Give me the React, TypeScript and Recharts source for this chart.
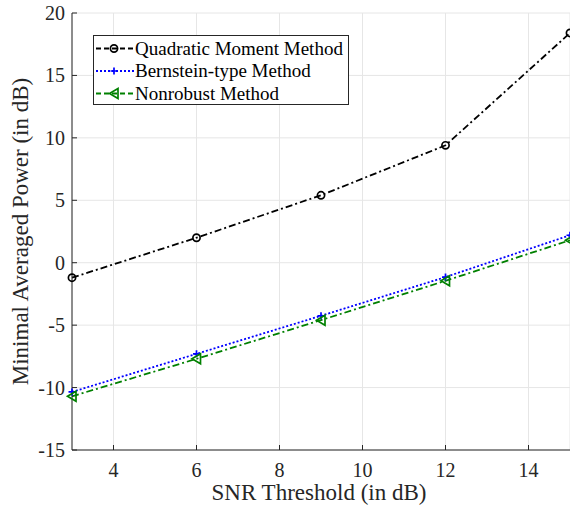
import React from 'react';
import { LineChart, Line, XAxis, YAxis, CartesianGrid, Legend, Label } from 'recharts';

const snrThreshold = [3, 6, 9, 12, 15];
const quadraticMoment = [-1.2, 2.0, 5.4, 9.4, 18.4];
const bernsteinType = [-10.35, -7.3, -4.25, -1.15, 2.2];
const nonrobust = [-10.7, -7.7, -4.6, -1.45, 1.8];
const xTicks = [4, 6, 8, 10, 12, 14];
const yTicks = [-15, -10, -5, 0, 5, 10, 15, 20];
const seriesNames = ['Quadratic Moment Method', 'Bernstein-type Method', 'Nonrobust Method'];
const seriesKeys = ['quadratic', 'bernstein', 'nonrobust'];

const data = snrThreshold.map((x, i) => ({
  snr: x,
  quadratic: quadraticMoment[i],
  bernstein: bernsteinType[i],
  nonrobust: nonrobust[i],
}));

const FONT = '"Liberation Serif", "Times New Roman", serif';
const AX = '#262626';
const GRID = '#e6e6e6';
const COLORS = ['#000000', '#0000ff', '#008000'];
const DASHES = ['7 3 2 3', '2 2', '7 3 2 3'];
const SW = 1.8;

const marker = (idx: number, cx: number, cy: number, key?: any) => {
  const c = COLORS[idx];
  if (idx === 0) {
    return <circle key={key} cx={cx} cy={cy} r={3.6} fill="none" stroke={c} strokeWidth={1.7} />;
  }
  if (idx === 1) {
    return (
      <path key={key} d={`M${cx - 3.5},${cy}H${cx + 3.5}M${cx},${cy - 3.5}V${cy + 3.5}`} stroke={c} strokeWidth={1.7} fill="none" />
    );
  }
  return (
    <path key={key} d={`M${cx - 4.5},${cy}L${cx + 4},${cy - 5}L${cx + 4},${cy + 5}Z`} stroke={c} strokeWidth={1.7} fill="none" />
  );
};

const makeDot = (idx: number) => (props: any) => {
  const { cx, cy, key, index } = props;
  if (cx == null || cy == null) return <g key={key ?? index} />;
  return marker(idx, cx, cy, key ?? `d${idx}-${index}`);
};

const BottomTick = (props: any) => {
  const { x, y, payload } = props;
  return (
    <g>
      <line x1={x} x2={x} y1={y} y2={y - 5} stroke={AX} strokeWidth={1} />
      <text x={x} y={y + 27} textAnchor="middle" fontSize={20} fill={AX} fontFamily={FONT}>
        {payload.value}
      </text>
    </g>
  );
};

const LeftTick = (props: any) => {
  const { x, y, payload } = props;
  return (
    <g>
      <line x1={x} x2={x + 5} y1={y} y2={y} stroke={AX} strokeWidth={1} />
      <text x={x - 7} y={y + 7} textAnchor="end" fontSize={20} fill={AX} fontFamily={FONT}>
        {payload.value}
      </text>
    </g>
  );
};

const TopTick = (props: any) => {
  const { x, y } = props;
  return <line x1={x} x2={x} y1={y} y2={y + 5} stroke={AX} strokeWidth={1} />;
};

const RightTick = (props: any) => {
  const { x, y } = props;
  return <line x1={x} x2={x - 5} y1={y} y2={y} stroke={AX} strokeWidth={1} />;
};

const LegendBox = () => {
  const rowY = [13.5, 36, 58.5];
  return (
    <svg width={256} height={70} style={{ display: 'block' }}>
      <rect x={0.5} y={0.5} width={255} height={69} fill="#ffffff" stroke={AX} strokeWidth={1} />
      {seriesNames.map((name, i) => (
        <g key={name}>
          <line x1={3} x2={41} y1={rowY[i]} y2={rowY[i]} stroke={COLORS[i]} strokeWidth={SW} strokeDasharray={i === 1 ? '2 2' : '5 3'} />
          {marker(i, 21, rowY[i])}
          <text x={42} y={rowY[i] + 6} fontSize={19} fontFamily={FONT} fill="#000">
            {name}
          </text>
        </g>
      ))}
    </svg>
  );
};

export default function App() {
  return (
    <div style={{ position: 'absolute', left: 0, top: 0, background: '#fff' }}>
      <LineChart width={570} height={507} data={data} margin={{ top: 13, right: 0, bottom: 0, left: 0 }}>
        <CartesianGrid stroke={GRID} strokeWidth={1} />
        <XAxis
          dataKey="snr"
          type="number"
          domain={[3, 15]}
          ticks={xTicks}
          interval={0}
          height={57}
          tickSize={0}
          tickMargin={0}
          tick={BottomTick}
          axisLine={{ stroke: AX, strokeWidth: 1 }}
          tickLine={false}
        >
          <Label
            content={(p: any) => {
              const vb = p.viewBox || { x: 72, y: 450, width: 498 };
              return (
                <text x={vb.x + vb.width / 2 - 2} y={vb.y + 50} textAnchor="middle" fontSize={23} fontFamily={FONT} fill={AX}>
                  SNR Threshold (in dB)
                </text>
              );
            }}
          />
        </XAxis>
        <XAxis
          xAxisId="top"
          orientation="top"
          type="number"
          domain={[3, 15]}
          ticks={xTicks}
          interval={0}
          height={0}
          tickSize={0}
          tickMargin={0}
          tick={TopTick}
          axisLine={{ stroke: AX, strokeWidth: 1 }}
          tickLine={false}
        />
        <YAxis
          type="number"
          domain={[-15, 20]}
          ticks={yTicks}
          interval={0}
          width={72}
          tickSize={0}
          tickMargin={0}
          tick={LeftTick}
          axisLine={{ stroke: AX, strokeWidth: 1 }}
          tickLine={false}
        >
          <Label
            content={(p: any) => {
              const vb = p.viewBox || { x: 0, y: 13, height: 437 };
              const cx = vb.x + 28;
              const cy = vb.y + vb.height / 2;
              return (
                <text x={cx} y={cy} transform={`rotate(-90 ${cx} ${cy})`} textAnchor="middle" fontSize={23} fontFamily={FONT} fill={AX}>
                  Minimal Averaged Power (in dB)
                </text>
              );
            }}
          />
        </YAxis>
        <YAxis
          yAxisId="right"
          orientation="right"
          type="number"
          domain={[-15, 20]}
          ticks={yTicks}
          interval={0}
          width={0}
          tickSize={0}
          tickMargin={0}
          tick={RightTick}
          axisLine={{ stroke: AX, strokeWidth: 1 }}
          tickLine={false}
        />
        {seriesKeys.map((k, i) => (
          <Line
            key={k}
            dataKey={k}
            name={seriesNames[i]}
            stroke={COLORS[i]}
            strokeWidth={SW}
            strokeDasharray={DASHES[i]}
            dot={makeDot(i)}
            activeDot={false}
            isAnimationActive={false}
            type="linear"
          />
        ))}
        <Legend
          layout="horizontal"
          verticalAlign="middle"
          align="center"
          content={LegendBox}
          wrapperStyle={{ position: 'absolute', left: 93, top: 35, width: 256, height: 70 }}
        />
      </LineChart>
    </div>
  );
}
